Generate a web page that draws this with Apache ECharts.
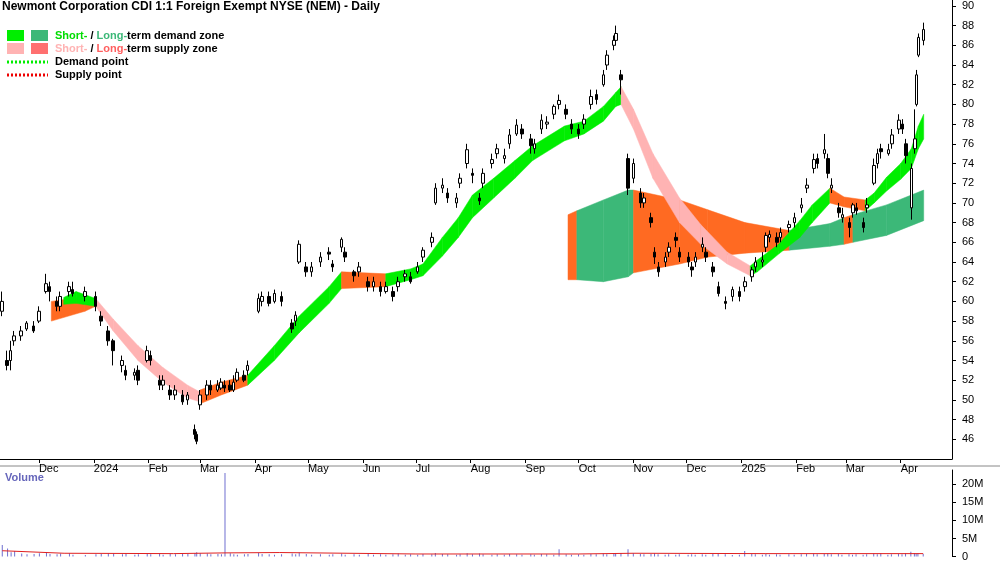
<!DOCTYPE html>
<html>
<head>
<meta charset="utf-8">
<script src="https://cdn.jsdelivr.net/npm/echarts@6/dist/echarts.min.js"></script>
<style>html,body{margin:0;padding:0;background:#fff}#chart{width:1000px;height:562px}</style>
</head>
<body>
<div id="chart"></div>
<script>
// [date, open, close, low, high, volume in millions]
const candles = [
  ['2023-11-10',59,60,58.5,61,3.2],['2023-11-13',54,53.5,53,55,2.2],['2023-11-15',54,55,53,56,1.2],
  ['2023-11-17',56,56.5,55.5,57,1.5],['2023-11-21',56.5,57,56,57.5,0.8],['2023-11-24',57.2,57.8,57,58,0.6],
  ['2023-11-28',57.5,57,56.8,58,0.7],['2023-12-01',58,59,57.8,59.5,0.9],['2023-12-05',61,61.8,60.8,62.8,1.1],
  ['2023-12-07',61.5,61,60,62,0.7],['2023-12-11',60,59.5,59,60.5,0.6],['2023-12-13',59.5,60.5,59,61,0.8],
  ['2023-12-18',61,61.5,60.5,62,0.9],['2023-12-20',61.2,60.8,60.5,62,0.5],['2023-12-27',60.5,61,60,61.5,0.4],
  ['2024-01-02',60.5,59.5,59,61,0.6],['2024-01-05',58.5,58,57.5,59,0.7],['2024-01-09',57,56,55.5,57.5,0.9],
  ['2024-01-12',56,55,53.5,56.2,0.8],['2024-01-17',53.5,54,52.8,54.5,0.6],['2024-01-19',53,52.5,52,53.5,0.7],
  ['2024-01-24',52.5,52.8,52,53.2,0.5],['2024-01-26',53,52,51.5,53.5,0.6],['2024-01-31',54,55,53.8,55.5,0.8],
  ['2024-02-02',54.5,54,53.5,55,0.6],['2024-02-07',52,51.5,51,52.5,0.9],['2024-02-09',51.5,52,51,52.5,0.5],
  ['2024-02-13',51,50.5,50,51.5,0.7],['2024-02-16',50.5,51,50,51.5,0.6],['2024-02-20',50.5,49.8,49.5,51,0.8],
  ['2024-02-23',50,50.5,49.5,50.8,0.7],['2024-02-27',47,46.5,46,47.5,1.0],['2024-02-28',46.5,45.8,45.5,46.8,1.2],
  ['2024-03-01',49.5,50.5,49,51,0.9],['2024-03-05',50.5,51.5,50,52,0.8],['2024-03-07',51.5,51,50.5,52,0.6],
  ['2024-03-11',51,51.5,50.8,52,0.7],['2024-03-13',51.2,51.8,51,52.2,0.6],['2024-03-15',51.5,51.2,50.8,52,23.2],
  ['2024-03-18',51.5,51,50.8,52,0.9],['2024-03-20',51,51.8,50.8,52.5,0.6],['2024-03-22',52,52.8,51.8,53.2,0.5],
  ['2024-03-26',52.5,52,51.8,53,0.6],['2024-03-28',53,53.5,52.5,54,0.7],['2024-04-03',59,60.3,58.8,60.8,1.0],
  ['2024-04-05',60,60.5,59.5,61,0.7],['2024-04-09',60.5,59.8,59.5,61,0.6],['2024-04-12',60,60.8,59.8,61.2,0.5],
  ['2024-04-16',60.5,60,59.5,61,0.6],['2024-04-22',57.8,57.2,56.8,58.2,0.8],['2024-04-24',58,58.6,57.5,59,0.6],
  ['2024-04-26',64,65.8,63.8,66.2,1.1],['2024-04-30',63.5,63,62.5,64,0.7],['2024-05-03',63,63.5,62.5,64,0.5],
  ['2024-05-08',64,64.5,63.5,65,0.6],['2024-05-13',65,64.8,64.2,65.5,0.5],['2024-05-15',63.8,63.5,63,64.2,0.6],
  ['2024-05-20',65.5,66.3,65,66.5,0.8],['2024-05-22',65,64.5,64,65.5,0.5],['2024-05-27',63,62.6,62,63.2,0.6],
  ['2024-05-30',63,63.5,62.5,64,0.5],['2024-06-04',62,61.5,61,62.5,0.7],['2024-06-07',61.5,62,61,62.5,0.5],
  ['2024-06-11',61.5,61,60.5,62,0.6],['2024-06-14',61,61.5,60.8,62,0.5],['2024-06-18',61,60.5,60,61.5,0.6],
  ['2024-06-21',61.5,62,61,62.5,0.8],['2024-06-25',62.5,62.8,62,63.2,0.5],['2024-06-28',62.5,62,61.8,63,0.6],
  ['2024-07-02',63,63.5,62.8,64,0.5],['2024-07-05',64.5,65.2,64,65.5,0.7],['2024-07-10',66,66.5,65.5,67,0.6],
  ['2024-07-12',70,71.5,69.8,72,1.0],['2024-07-16',71.5,71.8,71,72.5,0.7],['2024-07-19',71,70.5,70,71.5,0.6],
  ['2024-07-24',70,70.5,69.5,71,0.5],['2024-07-26',72,72.5,71.5,73,0.6],['2024-07-30',74,75.4,73.5,76,0.9],
  ['2024-08-02',73,72.8,72,73.5,0.6],['2024-08-06',70.5,70.2,69.8,71,0.8],['2024-08-08',72,73,71.5,73.5,0.6],
  ['2024-08-13',74,74.4,73.5,75,0.5],['2024-08-16',75,75.5,74.5,76,0.6],['2024-08-20',74.5,74.8,74,75.5,0.5],
  ['2024-08-23',76,76.9,75.5,77.5,0.7],['2024-08-27',77,77.9,76.8,78.5,0.6],['2024-08-30',77.5,77,76.5,78,0.5],
  ['2024-09-04',76.5,75.8,75,77,0.6],['2024-09-06',75.5,76,75,76.5,0.5],['2024-09-10',77.5,78.4,77,79,0.7],
  ['2024-09-13',78,78.2,77.5,78.8,0.6],['2024-09-17',79,79.8,78.5,80,0.5],['2024-09-20',80,80.4,79.5,81,2.0],
  ['2024-09-24',79.5,79,78.5,80,0.6],['2024-09-27',78,77.5,77,78.5,0.5],['2024-10-01',77.5,77,76.5,78,0.6],
  ['2024-10-04',78,78.5,77.5,79,0.5],['2024-10-08',80,80.8,79.5,81.5,0.7],['2024-10-11',81,80.5,80,81.5,0.6],
  ['2024-10-15',82,83,81.8,83.5,0.8],['2024-10-17',84,85,83.5,85.5,0.6],['2024-10-21',86,86.5,85.5,87,0.7],
  ['2024-10-22',86.5,87.2,86,88,0.8],['2024-10-25',83,82.5,81,83.5,1.0],['2024-10-29',74.5,71.5,70.8,75,2.0],
  ['2024-11-01',72.5,74,72,74.5,1.0],['2024-11-05',71,70,69.5,71.5,0.7],['2024-11-07',70,70.5,69.5,71,0.6],
  ['2024-11-11',68.5,68,67.5,69,0.7],['2024-11-13',65,64.5,63.8,65.5,0.9],['2024-11-15',63.5,63,62.5,64,0.6],
  ['2024-11-19',64,64.5,63.5,65,0.5],['2024-11-21',65,65.5,64.5,66,0.6],['2024-11-25',66.5,66.2,65.5,67,0.5],
  ['2024-11-27',65,64.5,64,65.5,0.6],['2024-12-02',64.5,64,63.5,65,0.5],['2024-12-04',63.5,63.2,62.5,64,0.6],
  ['2024-12-06',64,64.5,63.5,65,0.5],['2024-12-10',65.5,65.8,65,66.5,0.6],['2024-12-12',65,64.5,64,65.5,0.5],
  ['2024-12-16',63.5,63,62.5,64,0.7],['2024-12-19',61.5,60.8,60.5,62,0.8],['2024-12-23',60,59.8,59.2,60.5,0.6],
  ['2024-12-27',60.5,61.2,60,61.5,0.4],['2024-12-31',61,60.5,60,61.5,0.5],['2025-01-03',61.5,62,61,62.5,1.5],
  ['2025-01-07',62.5,63.2,62,63.5,0.7],['2025-01-09',63.5,64,63,64.5,0.6],['2025-01-13',64,64.2,63.5,65,0.5],
  ['2025-01-15',65.5,66.7,65,67,0.7],['2025-01-17',66.5,66.8,66,67.2,0.5],['2025-01-21',66.5,66,65.5,67,0.6],
  ['2025-01-23',66.5,67,66,67.5,0.5],['2025-01-28',67.5,67.8,67,68.2,0.6],['2025-01-31',68,68.5,67.5,69,0.5],
  ['2025-02-04',69.5,69.8,69,70.5,0.6],['2025-02-07',71.5,71.8,71,72.5,0.7],['2025-02-11',73.5,74.4,73,75,0.8],
  ['2025-02-13',74.5,74,73.5,75,0.6],['2025-02-17',75,75.4,74.5,77,0.7],['2025-02-19',74.5,73,72.5,75,0.8],
  ['2025-02-21',71.5,71.8,71,72.5,0.6],['2025-02-25',69.5,69,68.5,70,0.7],['2025-02-27',68.5,68.8,68,69.5,0.5],
  ['2025-03-03',68,67.5,66.5,68.5,0.6],['2025-03-05',69,69.8,68.5,70,0.5],['2025-03-07',69.5,69.2,68.8,70,0.6],
  ['2025-03-11',68,67.5,67,68.5,0.5],['2025-03-13',69.5,69.8,69,70.5,0.6],['2025-03-17',72,73.8,71.8,74.5,0.8],
  ['2025-03-19',74,75,73.5,75.5,0.6],['2025-03-21',75.5,75.2,74.5,76,0.9],['2025-03-25',75,75.4,74.8,76,0.5],
  ['2025-03-27',76,76.9,75.5,77.5,0.6],['2025-03-31',77.5,78.4,77,79,0.7],['2025-04-02',78,77.5,77,78.5,0.6],
  ['2025-04-04',76,74.8,74,76.5,0.9],['2025-04-07',69.5,73.5,68.3,74,1.3],['2025-04-09',75.5,76.5,75,79.5,1.0],
  ['2025-04-10',80,83,79.8,83.5,0.8],['2025-04-11',85,86.8,84.8,87.2,0.9],['2025-04-14',86.5,87.6,86,88.3,0.7]
];

// volume average line (millions)
const volAvgDates = ['2023-11-10','2023-12-15','2024-02-15','2024-03-15','2024-04-15','2024-07-01','2024-10-01','2024-11-01','2025-01-15','2025-04-14'];
const volAvgValues = [1.6,0.9,0.8,1.0,1.1,0.7,0.7,0.9,0.8,0.8];

// zones: [date, low, high, key] ; key colours the piece up to the next row
// d short demand, s short supply, D long demand, S long supply, x none
const shortZone = [
  ['2023-12-15',59.7,60.4,'d'],['2023-12-22',59.8,61.0,'d'],['2024-01-02',59.5,60.3,'s'],
  ['2024-01-12',57.0,58.2,'s'],['2024-01-26',54.0,55.5,'s'],['2024-02-09',51.8,53.3,'s'],
  ['2024-02-23',50.2,51.5,'s'],['2024-03-01',49.8,50.8,'x'],['2024-03-28',51.5,52.5,'d'],
  ['2024-04-12',54.0,55.5,'d'],['2024-04-26',56.8,58.5,'d'],['2024-05-13',59.8,61.5,'d'],
  ['2024-05-20',61.3,63.0,'S'],['2024-06-14',61.5,62.8,'d'],['2024-06-28',62.2,63.3,'d'],
  ['2024-07-05',62.6,63.8,'d'],['2024-07-16',64.6,66.5,'d'],['2024-07-25',66.5,68.5,'d'],
  ['2024-08-02',68.5,70.8,'d'],['2024-08-14',70.5,72.5,'d'],['2024-08-26',72.5,74.3,'d'],
  ['2024-09-05',74.3,75.8,'d'],['2024-09-23',76.3,77.8,'d'],['2024-10-04',77.0,78.3,'d'],
  ['2024-10-15',78.3,79.8,'d'],['2024-10-22',79.8,81.2,'d'],['2024-10-25',80.0,81.8,'s'],
  ['2024-11-01',77.5,79.5,'s'],['2024-11-12',72.5,75.0,'s'],['2024-11-27',68.0,70.5,'s'],
  ['2024-12-09',65.8,67.8,'s'],['2024-12-24',63.8,65.0,'s'],['2025-01-06',62.6,63.6,'d'],
  ['2025-01-10',63.0,64.2,'d'],['2025-01-22',64.8,65.8,'d'],['2025-02-03',66.5,68.2,'d'],
  ['2025-02-10',68.0,69.8,'d'],['2025-02-20',70.0,71.5,'S'],['2025-02-28',69.6,70.6,'S'],
  ['2025-03-12',69.2,70.3,'d'],['2025-03-17',70.0,71.0,'d'],['2025-03-24',71.2,72.6,'d'],
  ['2025-04-01',72.4,74.0,'d'],['2025-04-07',73.5,75.5,'d'],['2025-04-11',75.5,77.8,'d'],
  ['2025-04-14',76.5,79.0,'d']
];
const longZone = [
  ['2023-12-08',58.0,60.0,'S'],['2023-12-27',59.0,60.5,'S'],['2024-01-02',59.5,60.2,'x'],
  ['2024-03-01',49.6,51.0,'S'],['2024-03-13',50.5,51.8,'S'],['2024-03-28',51.5,52.5,'x'],
  ['2024-09-25',62.2,68.8,'S'],['2024-09-30',62.2,69.2,'D'],['2024-10-15',62.0,70.3,'D'],
  ['2024-10-29',62.5,71.3,'D'],['2024-11-01',62.9,71.3,'S'],['2024-11-27',63.8,70.3,'S'],
  ['2024-12-13',64.5,69.3,'S'],['2025-01-03',64.9,68.0,'S'],['2025-01-28',65.2,67.2,'D'],
  ['2025-02-20',65.6,67.9,'D'],['2025-02-28',65.8,68.5,'S'],['2025-03-05',66.0,68.8,'D'],
  ['2025-03-24',66.7,69.8,'D'],['2025-04-14',68.2,71.3,'D']
];
const priceTicks = {min: 44, max: 90.6, interval: 2};

const zoneColors = {d: '#00ee00', s: '#ffb3b3', D: '#3cb878', S: '#ff6a22'};
const ts = d => +new Date(d + 'T00:00:00Z');
const FONT = 'Liberation Sans';

function zoneSeries(rows) {
  return {
    type: 'custom', xAxisIndex: 0, yAxisIndex: 0, silent: true,
    data: rows.map(r => [ts(r[0]), r[1], r[2]]),
    renderItem: function (params, api) {
      const i = params.dataIndex;
      if (i >= rows.length - 1 || rows[i][3] === 'x') return;
      const a = rows[i], b = rows[i + 1];
      const pts = [
        api.coord([ts(a[0]), a[1]]), api.coord([ts(b[0]), b[1]]),
        api.coord([ts(b[0]), b[2]]), api.coord([ts(a[0]), a[2]])
      ];
      return {type: 'polygon', shape: {points: pts}, style: {fill: zoneColors[a[3]], stroke: zoneColors[a[3]], lineWidth: 0.5}};
    }
  };
}

const chart = echarts.init(document.getElementById('chart'));
const xMin = ts('2023-11-09'), xMax = ts('2025-04-30');
const month = 864e5 * 28;

const option = {
  animation: false,
  backgroundColor: '#fff',
  textStyle: {fontFamily: FONT},
  grid: [
    {left: 0, right: 48, top: 0, bottom: 103},
    {left: 0, right: 48, top: 470, bottom: 4}
  ],
  xAxis: [
    {type: 'time', gridIndex: 0, min: xMin, max: xMax, minInterval: month, maxInterval: 864e5 * 31,
      axisLine: {lineStyle: {color: '#000'}}, axisTick: {length: 4, lineStyle: {color: '#000'}},
      splitLine: {show: false},
      axisLabel: {color: '#000', fontSize: 11, fontFamily: FONT, align: 'left', margin: 4,
        formatter: {year: '{yyyy}', month: '{MMM}'}, showMinLabel: false, showMaxLabel: false}},
    {type: 'time', gridIndex: 1, min: xMin, max: xMax, axisLabel: {show: false}, axisTick: {show: false},
      axisLine: {show: false}, splitLine: {show: false}}
  ],
  yAxis: [
    {type: 'value', gridIndex: 0, position: 'right', min: priceTicks.min, max: priceTicks.max, interval: priceTicks.interval,
      axisLine: {show: true, lineStyle: {color: '#000'}}, axisTick: {show: true, length: 4},
      splitLine: {show: false},
      axisLabel: {color: '#000', fontSize: 11, fontFamily: FONT, margin: 10, showMinLabel: false, showMaxLabel: false}},
    {type: 'value', gridIndex: 1, position: 'right', min: 0, max: 24e6, interval: 5e6,
      axisLine: {show: true, lineStyle: {color: '#000'}}, axisTick: {show: true, length: 4},
      splitLine: {show: false},
      axisLabel: {color: '#000', fontSize: 11, fontFamily: FONT, margin: 10, showMaxLabel: false,
        formatter: v => v === 0 ? '0' : (v / 1e6) + 'M'}}
  ],
  series: [
    zoneSeries(longZone),
    zoneSeries(shortZone),
    {
      type: 'candlestick', xAxisIndex: 0, yAxisIndex: 0, barWidth: 3,
      data: candles.map(c => [ts(c[0]), c[1], c[2], c[3], c[4]]),
      itemStyle: {color: '#fff', color0: '#000', borderColor: '#000', borderColor0: '#000', borderWidth: 1}
    },
    {
      type: 'bar', xAxisIndex: 1, yAxisIndex: 1, barWidth: 1,
      data: candles.map(c => [ts(c[0]), c[5] * 1e6]),
      itemStyle: {color: '#6f6fd0'}
    },
    {
      type: 'line', xAxisIndex: 1, yAxisIndex: 1, symbol: 'none',
      data: volAvgDates.map((d, i) => [ts(d), volAvgValues[i] * 1e6]),
      lineStyle: {color: '#e02020', width: 1}
    }
  ],
  graphic: [
    {type: 'text', left: 2, top: 1, style: {text: 'Newmont Corporation CDI 1:1 Foreign Exempt NYSE (NEM) - Daily', font: 'bold 12px "Liberation Sans"', fill: '#000'}},
    {type: 'rect', left: 7, top: 30, shape: {width: 17, height: 11}, style: {fill: '#00ee00'}},
    {type: 'rect', left: 31, top: 30, shape: {width: 17, height: 11}, style: {fill: '#3cb878'}},
    {type: 'rect', left: 7, top: 43, shape: {width: 17, height: 11}, style: {fill: '#ffb3b3'}},
    {type: 'rect', left: 31, top: 43, shape: {width: 17, height: 11}, style: {fill: '#ff7070'}},
    {type: 'line', shape: {x1: 7, y1: 62, x2: 48, y2: 62}, style: {stroke: '#00ee00', lineWidth: 3, lineDash: [2, 2]}},
    {type: 'line', shape: {x1: 7, y1: 75, x2: 48, y2: 75}, style: {stroke: '#ee0000', lineWidth: 3, lineDash: [2, 2]}},
    {type: 'text', left: 55, top: 30, style: {text: '{g|Short-} / {t|Long-}term demand zone',
      font: 'bold 11px "Liberation Sans"', fill: '#000', rich: {g: {fill: '#00dd00', font: 'bold 11px "Liberation Sans"'}, t: {fill: '#3cb878', font: 'bold 11px "Liberation Sans"'}}}},
    {type: 'text', left: 55, top: 43, style: {text: '{p|Short-} / {r|Long-}term supply zone',
      font: 'bold 11px "Liberation Sans"', fill: '#000', rich: {p: {fill: '#ffb3b3', font: 'bold 11px "Liberation Sans"'}, r: {fill: '#ff6060', font: 'bold 11px "Liberation Sans"'}}}},
    {type: 'text', left: 55, top: 56, style: {text: 'Demand point', font: 'bold 11px "Liberation Sans"', fill: '#000'}},
    {type: 'text', left: 55, top: 69, style: {text: 'Supply point', font: 'bold 11px "Liberation Sans"', fill: '#000'}},
    {type: 'text', left: 5, top: 472, style: {text: 'Volume', font: 'bold 11px "Liberation Sans"', fill: '#6666bb'}},
    {type: 'line', shape: {x1: 0, y1: 466, x2: 1000, y2: 466}, style: {stroke: '#888', lineWidth: 1}}
  ]
};
option && chart.setOption(option);
</script>
</body>
</html>
